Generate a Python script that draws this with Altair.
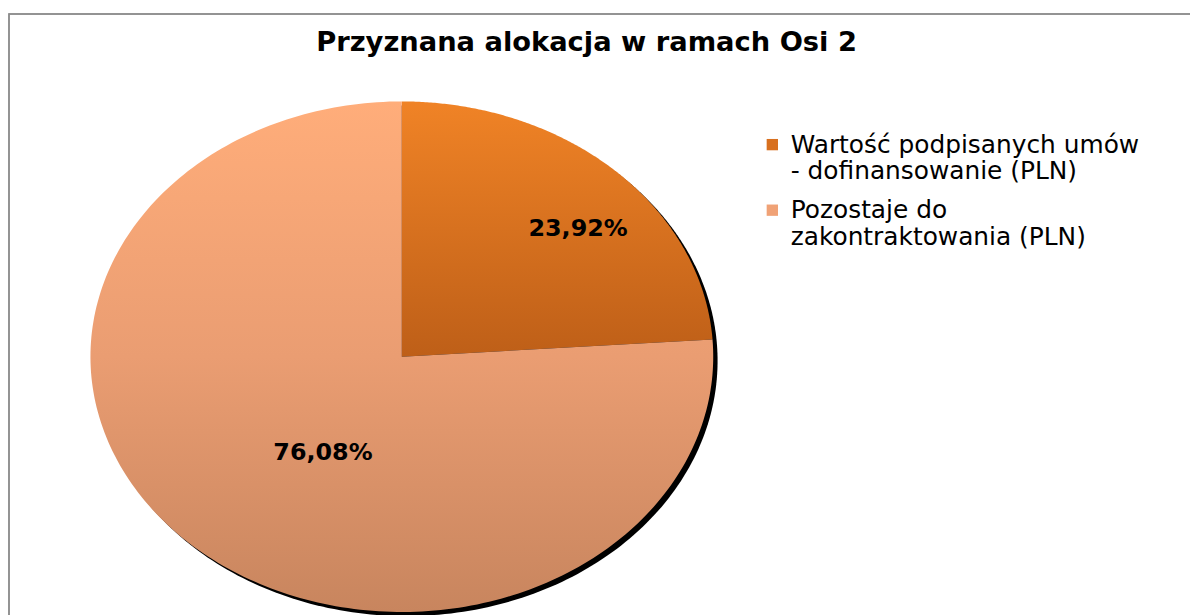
import altair as alt
import numpy as np
import pandas as pd

# ---- data ----
categories = ["Wartość podpisanych umów|- dofinansowanie (PLN)",
              "Pozostaje do|zakontraktowania (PLN)"]
shares = [23.92, 76.08]
solid_colors = ["#D8701F", "#F0A276"]

# ---- derived tables ----
total = float(sum(shares))
fracs = [s / total for s in shares]
starts = list(np.cumsum([0.0] + fracs[:-1]))

N = 240
rows = []
for cat, st, fr in zip(categories, starts, fracs):
    for k in range(-1, N + 1):
        rows.append({"slice": cat, "k": k, "u": max(k, 0) / N, "start": st, "frac": fr})
samples = pd.DataFrame(rows)
slices = pd.DataFrame({"slice": categories, "share": shares, "start": starts, "frac": fracs})

xs = alt.Scale(domain=[-1, 1], nice=False, zero=False)
ys = alt.Scale(domain=[-1, 1], nice=False, zero=False)

base = alt.Chart(samples).transform_calculate(
    ang="2*PI*(datum.start + datum.u*datum.frac)"
).transform_calculate(
    px="datum.k < 0 ? 0 : sin(datum.ang)",
    py="datum.k < 0 ? 0 : cos(datum.ang)",
)

# shadow behind the ellipse
shadow = base.transform_filter("datum.k >= 0").transform_calculate(
    sx="datum.px + 0.014", sy="datum.py - 0.016"
).mark_line(filled=True, fill="#000000", strokeWidth=0).encode(
    x=alt.X("sx:Q", scale=xs, axis=None),
    y=alt.Y("sy:Q", scale=ys, axis=None),
    order=alt.Order("ang:Q"),
)

grads = [
    alt.Gradient(gradient="linear", x1=0, y1=0, x2=0, y2=1,
                 stops=[alt.GradientStop(color="#F08326", offset=0),
                        alt.GradientStop(color="#BE5F18", offset=1)]),
    alt.Gradient(gradient="linear", x1=0, y1=0, x2=0, y2=1,
                 stops=[alt.GradientStop(color="#FFAD7A", offset=0),
                        alt.GradientStop(color="#EA9D72", offset=0.5),
                        alt.GradientStop(color="#C8855E", offset=1)]),
]

slice_layers = []
for cat, g in zip(categories, grads):
    slice_layers.append(
        base.transform_filter(alt.datum.slice == cat)
        .mark_line(filled=True, fill=g, strokeWidth=0)
        .encode(
            x=alt.X("px:Q", scale=xs, axis=None),
            y=alt.Y("py:Q", scale=ys, axis=None),
            order=alt.Order("k:Q"),
        )
    )

labels = alt.Chart(slices).transform_calculate(
    mid="2*PI*(datum.start + datum.frac/2)",
    txt="replace(format(datum.share, '.2f'), '.', ',') + '%'",
).transform_calculate(
    lx="0.6*sin(datum.mid)", ly="0.6*cos(datum.mid)"
).mark_text(font="DejaVu Sans", fontSize=24, fontWeight="bold", color="#000000",
            dx=49, dy=-16).encode(
    x=alt.X("lx:Q", scale=xs, axis=None),
    y=alt.Y("ly:Q", scale=ys, axis=None),
    text="txt:N",
)

legend_layer = alt.Chart(slices).mark_point(shape="square", filled=True, opacity=0).encode(
    x=alt.datum(0, scale=xs, axis=None),
    y=alt.datum(0, scale=ys, axis=None),
    color=alt.Color(
        "slice:N",
        scale=alt.Scale(domain=categories, range=solid_colors),
        legend=alt.Legend(
            title=None, orient="none", legendX=674, legendY=31,
            symbolType="square", symbolSize=130, symbolOpacity=1, symbolStrokeWidth=0,
            labelFont="DejaVu Sans", labelFontSize=25, labelColor="#000000",
            labelLimit=600, labelOffset=6, rowPadding=13,
            labelExpr="split(datum.label, '|')",
        ),
    ),
)

frame = alt.Chart(slices).mark_rect(fill="transparent", stroke="#8C8C8C", strokeWidth=1.5).encode(
    x=alt.value(-82), x2=alt.value(1200), y=alt.value(-88), y2=alt.value(700)
)

chart = alt.layer(frame, shadow, *slice_layers, labels, legend_layer).properties(
    width=627, height=514,
    padding={"left": 83, "top": 92, "right": 480, "bottom": 1},
    autosize=alt.AutoSizeParams(type="none"),
    title=alt.TitleParams(
        "Przyznana alokacja w ramach Osi 2", font="DejaVu Sans", fontSize=27.5,
        fontWeight="bold", color="#000000", anchor="middle", dx=186, offset=0,
        baseline="alphabetic", dy=65,
    ),
).configure_view(stroke=None)

chart.save("out.html", embed_options={"renderer": "svg", "actions": False})
